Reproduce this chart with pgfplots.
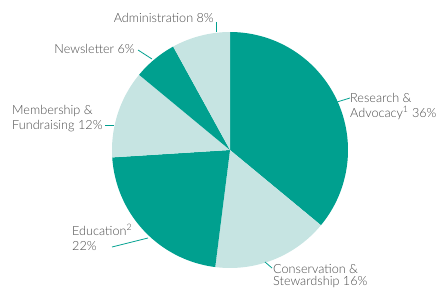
\documentclass[border=0pt]{standalone}
\usepackage{fontspec}
\setmainfont{Lato Light}
\usepackage{pgfplots}
\pgfplotsset{compat=1.18}
\definecolor{tealdark}{HTML}{00A08F}
\definecolor{teallight}{HTML}{C6E4E2}
\definecolor{txt}{HTML}{4A4A4A}
\tikzset{lbl/.style={font=\fontsize{12.7}{15}\selectfont, text=txt, inner sep=0pt}}
\begin{document}
\begin{tikzpicture}
\begin{axis}[
  scale only axis, width=438bp, height=290bp,
  xmin=0, xmax=438, ymin=0, ymax=290,
  hide axis, clip=false,
]
\path (0,0) rectangle (438,290);
% slices: cumulative percent ranges (start:end), values 36,16,22,12,6,8
\addplot[fill=tealdark, draw=none, domain=0:36, samples=80, variable=\t] ({230+118*cos(90-3.6*\t)}, {140+118*sin(90-3.6*\t)}) -- (230,140) -- cycle;
\addplot[fill=teallight, draw=none, domain=36:52, samples=40, variable=\t] ({230+118*cos(90-3.6*\t)}, {140+118*sin(90-3.6*\t)}) -- (230,140) -- cycle;
\addplot[fill=tealdark, draw=none, domain=52:74, samples=50, variable=\t] ({230+118*cos(90-3.6*\t)}, {140+118*sin(90-3.6*\t)}) -- (230,140) -- cycle;
\addplot[fill=teallight, draw=none, domain=74:86, samples=30, variable=\t] ({230+118*cos(90-3.6*\t)}, {140+118*sin(90-3.6*\t)}) -- (230,140) -- cycle;
\addplot[fill=tealdark, draw=none, domain=86:92, samples=20, variable=\t] ({230+118*cos(90-3.6*\t)}, {140+118*sin(90-3.6*\t)}) -- (230,140) -- cycle;
\addplot[fill=teallight, draw=none, domain=92:100, samples=25, variable=\t] ({230+118*cos(90-3.6*\t)}, {140+118*sin(90-3.6*\t)}) -- (230,140) -- cycle;
% leader lines
\draw[tealdark, line width=0.8pt] (216.5,268) -- (216.5,258);
\draw[tealdark, line width=0.8pt] (138,240) -- (152,231);
\draw[tealdark, line width=0.8pt] (105,165) -- (114,165);
\draw[tealdark, line width=0.8pt] (337,188) -- (350,192);
\draw[tealdark, line width=0.8pt] (112,43) -- (148,52);
\draw[tealdark, line width=0.8pt] (265,28) -- (272,22);
% labels
\node[lbl, anchor=base east] at (214,268) {Administration 8\%};
\node[lbl, anchor=base east] at (135,237) {Newsletter 6\%};
\node[lbl, anchor=base west] at (12,176) {Membership \&};
\node[lbl, anchor=base west] at (12,161) {Fundraising 12\%};
\node[lbl, anchor=base west] at (350,188) {Research \&};
\node[lbl, anchor=base west] at (350,173) {Advocacy\textsuperscript{1} 36\%};
\node[lbl, anchor=base west] at (72,55) {Education\textsuperscript{2}};
\node[lbl, anchor=base west] at (72,40) {22\%};
\node[lbl, anchor=base west] at (273,17) {Conservation \&};
\node[lbl, anchor=base west] at (273,5) {Stewardship 16\%};
\end{axis}
\end{tikzpicture}
\end{document}
